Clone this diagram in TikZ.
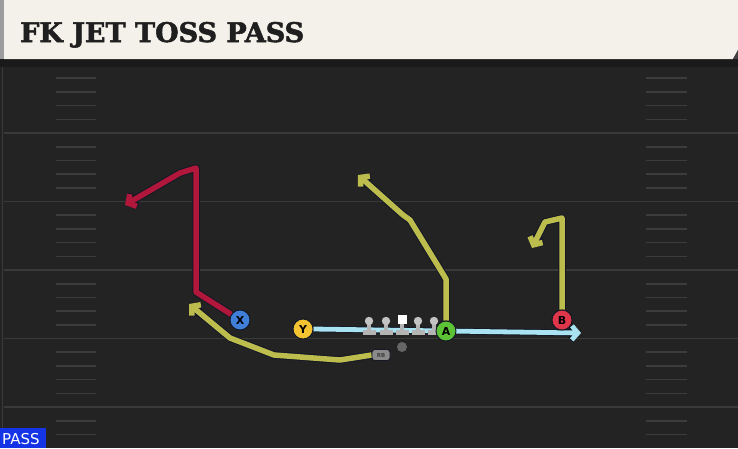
\documentclass[tikz,border=0pt]{standalone}
\usepackage{fontspec}
\setmainfont{DejaVu Sans}
\newfontfamily\titlefont[BoldFeatures={FakeBold=2}]{DejaVu Serif}
\newfontfamily\lblfont{DejaVu Sans}
\usetikzlibrary{arrows.meta}
\definecolor{bg}{HTML}{232323}
\definecolor{band}{HTML}{1A1A1A}
\definecolor{cream}{HTML}{F4F1EA}
\definecolor{edge}{HTML}{9C9C9C}
\definecolor{fline}{HTML}{3A3A3A}
\definecolor{hash}{HTML}{3C3C3C}
\definecolor{rred}{HTML}{B0173B}
\definecolor{olive}{HTML}{BDBD4E}
\definecolor{motion}{HTML}{A9E3F1}
\definecolor{outl}{HTML}{141826}
\definecolor{cy}{HTML}{F3C332}
\definecolor{cx}{HTML}{3F7FD8}
\definecolor{ca}{HTML}{5CC236}
\definecolor{cb}{HTML}{E0364A}
\definecolor{lineman}{HTML}{B4B4B4}
\definecolor{qbc}{HTML}{666666}
\definecolor{rbc}{HTML}{8A8A8A}
\definecolor{passblue}{HTML}{1434E6}
\tikzset{
  fieldline/.style={fline, line width=1.8pt},
  hashmark/.style={hash, line width=1.6pt},
  player/.style={circle, draw=outl, line width=0.9pt, minimum size=20pt, inner sep=0pt, font=\lblfont\bfseries\fontsize{11}{11}\selectfont},
  rbbox/.style={rounded corners=3pt, fill=rbc, draw=outl, line width=0.7pt, minimum width=18pt, minimum height=11pt, inner sep=0pt, text=black!75, font=\lblfont\bfseries\fontsize{5.5}{5.5}\selectfont},
  routeout/.style={outl, line width=7.5pt, line join=round},
  routein/.style={line width=5.5pt, line join=round, -{Straight Barb[length=6pt,width=14pt]}},
  routeouta/.style={routeout, -{Straight Barb[length=6pt,width=14pt]}},
}
\begin{document}
\begin{tikzpicture}[x=1pt,y=-1pt]
\useasboundingbox (0,0) rectangle (738,448);
\fill[bg] (0,0) rectangle (738,448);
\fill[band] (0,59) rectangle (738,67);
% field lines
\foreach \yy in {133,201.5,270,338.5,407}{
  \draw[fieldline] (4,\yy) -- (738,\yy);
}
% hash marks
\foreach \L in {64.5,133,201.5,270,338.5,407}{
  \foreach \k in {1,2,3,4}{
    \pgfmathsetmacro\hy{\L+13.7*\k}
    \ifdim\hy pt<446pt
      \draw[hashmark] (56,\hy) -- (96,\hy);
      \draw[hashmark] (646,\hy) -- (687,\hy);
    \fi
  }
}
\draw[fline, line width=1pt] (2,67) -- (2,448);
% header
\fill[cream] (4,0) -- (738,0) -- (738,50) -- (733,59) -- (4,59) -- cycle;
\fill[edge] (0,0) rectangle (4,59);
\fill[band!70!edge] (733,59) -- (738,50) -- (738,59) -- cycle;
\node[anchor=base west, inner sep=0pt, text=black!88] (title) at (20,42)
  {\titlefont\bfseries\fontsize{27}{27}\selectfont FK JET TOSS PASS};
% players
\node[player, fill=cy] (Y) at (303,329) {Y};
\node[player, fill=cx] (X) at (240,320) {X};
\node[player, fill=ca] (A) at (446,331) {A};
\node[player, fill=cb] (B) at (562,320) {B};
\node[circle, fill=qbc, minimum size=10pt, inner sep=0pt] (QB) at (402,347) {};
\node[rbbox] (RB) at (381,355) {RB};
% route waypoints
\coordinate (x1) at (196,292);
\coordinate (x2) at (196,168);
\coordinate (x3) at (180,173);
\coordinate (x4) at (125,205);
\coordinate (a1) at (446,279);
\coordinate (a2) at (410,220);
\coordinate (a3) at (403,215);
\coordinate (a4) at (358,175);
\coordinate (b1) at (562,218);
\coordinate (b2) at (545,222);
\coordinate (b3) at (532,248);
\coordinate (r1) at (340,360);
\coordinate (r2) at (274,355);
\coordinate (r3) at (230,338);
\coordinate (r4) at (189,304);
\coordinate (m1) at (581,333);
% motion line (behind linemen)
\draw[routeouta, line width=6.5pt] (Y.east) -- (m1);
\draw[routein, motion, line width=4.8pt] (Y.east) -- (m1);
% linemen
\foreach \lx in {369,386,418,434}{
  \fill[lineman] (\lx-2,321) rectangle (\lx+2,331);
  \fill[lineman] (\lx-6.5,329.5) rectangle (\lx+6.5,334.5);
  \fill[lineman!80!white] (\lx,321) circle (4.2pt);
}
\fill[lineman] (400,322) rectangle (404,331);
\fill[lineman] (395.5,329.5) rectangle (408.5,334.5);
\fill[white] (397.5,314.5) rectangle (406.5,324);
% routes
\draw[routeouta] (X) -- (x1) -- (x2) -- (x3) -- (x4);
\draw[routein, rred] (X) -- (x1) -- (x2) -- (x3) -- (x4);
\draw[routeouta] (A) -- (a1) -- (a2) -- (a3) -- (a4);
\draw[routein, olive] (A) -- (a1) -- (a2) -- (a3) -- (a4);
\draw[routeouta] (B) -- (b1) -- (b2) -- (b3);
\draw[routein, olive] (B) -- (b1) -- (b2) -- (b3);
\draw[routeouta] (RB.west) -- (r1) -- (r2) -- (r3) -- (r4);
\draw[routein, olive] (RB.west) -- (r1) -- (r2) -- (r3) -- (r4);
% redraw players on top
\node[player, fill=cy] at (Y) {Y};
\node[player, fill=cx] at (X) {X};
\node[player, fill=ca] at (A) {A};
\node[player, fill=cb] at (B) {B};
\node[rbbox] at (RB) {RB};
% PASS tag
\fill[passblue] (0,428) rectangle (46,448);
\node[anchor=base west, inner sep=0pt, text=white, font=\lblfont\fontsize{15}{15}\selectfont] (pass) at (2,444.5) {PASS};
\end{tikzpicture}
\end{document}
